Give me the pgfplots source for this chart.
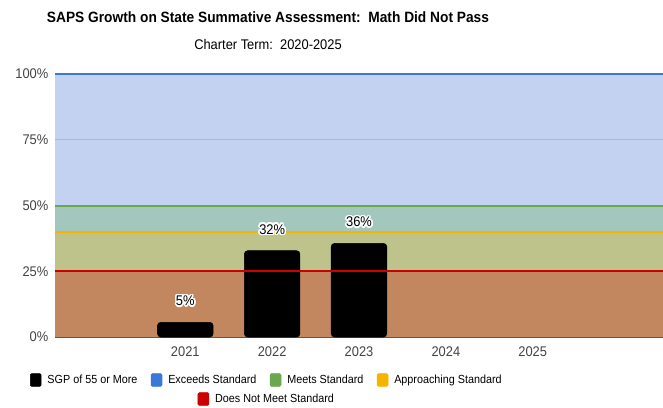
\documentclass[border=0pt]{standalone}
\usepackage{fontspec}
\setmainfont{Liberation Sans}[FakeStretch=0.92]
\usepackage{pgfplots}
\pgfplotsset{compat=1.18}
\usepackage{contour}
\contourlength{1.2pt}
\definecolor{bandBrown}{HTML}{C3875F}
\definecolor{bandOlive}{HTML}{BDC38B}
\definecolor{bandTeal}{HTML}{A3C7BC}
\definecolor{bandBlue}{HTML}{C2D2F0}
\definecolor{cRed}{HTML}{CC0000}
\definecolor{cYellow}{HTML}{F4B400}
\definecolor{cGreen}{HTML}{6AA84F}
\definecolor{cBlue}{HTML}{3C78D8}
\definecolor{grid75}{HTML}{A9B8DA}
\definecolor{tickgray}{HTML}{444444}
\begin{document}
\begin{tikzpicture}
\path[use as bounding box] (0,0) rectangle (497.25pt,305.25pt);
\node[font=\fontsize{11.2}{13}\selectfont\bfseries] at (201pt,292pt) {SAPS Growth on State Summative Assessment:\ \ Math Did Not Pass};
\node[font=\fontsize{10.5}{12}\selectfont] at (201pt,272.25pt) {Charter Term:\ \ 2020-2025};
\begin{axis}[
  at={(41.25pt,52.5pt)}, anchor=south west,
  scale only axis, width=456pt, height=197.25pt,
  xmin=-0.5, xmax=6.5, ymin=0, ymax=100,
  clip=false,
  axis x line*=bottom, axis y line*=left,
  x axis line style={draw=black!65, line width=0.9pt},
  y axis line style={draw=none},
  /pgf/number format/assume math mode=true,
  xtick={1,2,3,4,5}, xticklabels={2021,2022,2023,2024,2025},
  ytick={0,25,50,75,100}, yticklabels={0\%,25\%,50\%,75\%,100\%},
  major tick length=0pt,
  tick label style={font=\fontsize{10.5}{12}\selectfont, text=tickgray},
  xticklabel style={yshift=-4pt},
  yticklabel style={xshift=-1.5pt},
  legend style={at={(0.349,-0.1635)}, anchor=center, draw=none, fill=none,
    font=\fontsize{8.8}{11}\selectfont, legend columns=4,
    /tikz/every odd column/.append style={column sep=2.5pt},
    /tikz/every even column/.append style={column sep=8pt}},
  legend image code/.code={\fill[#1, rounded corners=1pt] (0pt,-4.8pt) rectangle (8.2pt,4.8pt);},
]
% background bands
\addplot[fill=bandBlue, draw=none, forget plot] coordinates {(-0.5,100) (6.5,100)} \closedcycle;
\addplot[fill=bandTeal, draw=none, forget plot] coordinates {(-0.5,50) (6.5,50)} \closedcycle;
\addplot[fill=bandOlive, draw=none, forget plot] coordinates {(-0.5,40) (6.5,40)} \closedcycle;
\addplot[fill=bandBrown, draw=none, forget plot] coordinates {(-0.5,25) (6.5,25)} \closedcycle;
\addplot[grid75, line width=0.6pt, forget plot] coordinates {(-0.5,75) (6.5,75)};
% bars
\addplot[ybar, bar width=0.64, fill=black, draw=black, rounded corners=2.5pt, forget plot]
  coordinates {(1,5.6) (2,32.8) (3,35.6)};
% threshold lines
\addplot[cBlue, line width=0.8pt, forget plot] coordinates {(-0.5,100) (6.5,100)};
\addplot[cGreen, line width=1.5pt, forget plot] coordinates {(-0.5,50) (6.5,50)};
\addplot[cYellow, line width=1.5pt, forget plot] coordinates {(-0.5,40) (6.5,40)};
\addplot[cRed, line width=1.5pt, forget plot] coordinates {(-0.5,25) (6.5,25)};
% labels
\addplot[draw=none, forget plot, point meta=explicit symbolic,
  nodes near coords={\contour{white}{\pgfplotspointmeta}},
  every node near coord/.style={anchor=south, inner sep=0pt, yshift=11pt,
    font=\fontsize{10.5}{12}\selectfont}]
  coordinates {(1,5.6) [5\%] (2,32.8) [32\%] (3,35.6) [36\%]};
% legend
\addlegendimage{black}
\addlegendentry{SGP of 55 or More}
\addlegendimage{cBlue}
\addlegendentry{Exceeds Standard}
\addlegendimage{cGreen}
\addlegendentry{Meets Standard}
\addlegendimage{cYellow}
\addlegendentry{Approaching Standard}
\end{axis}
\begin{axis}[
  at={(41.25pt,52.5pt)}, anchor=south west,
  scale only axis, width=456pt, height=197.25pt,
  xmin=-0.5, xmax=6.5, ymin=0, ymax=100,
  hide axis,
  legend style={at={(0.349,-0.236)}, anchor=center, draw=none, fill=none,
    font=\fontsize{8.8}{11}\selectfont,
    /tikz/every odd column/.append style={column sep=2.5pt}},
  legend image code/.code={\fill[#1, rounded corners=1pt] (0pt,-4.8pt) rectangle (8.2pt,4.8pt);},
]
\addlegendimage{cRed}
\addlegendentry{Does Not Meet Standard}
\end{axis}
\end{tikzpicture}
\end{document}
